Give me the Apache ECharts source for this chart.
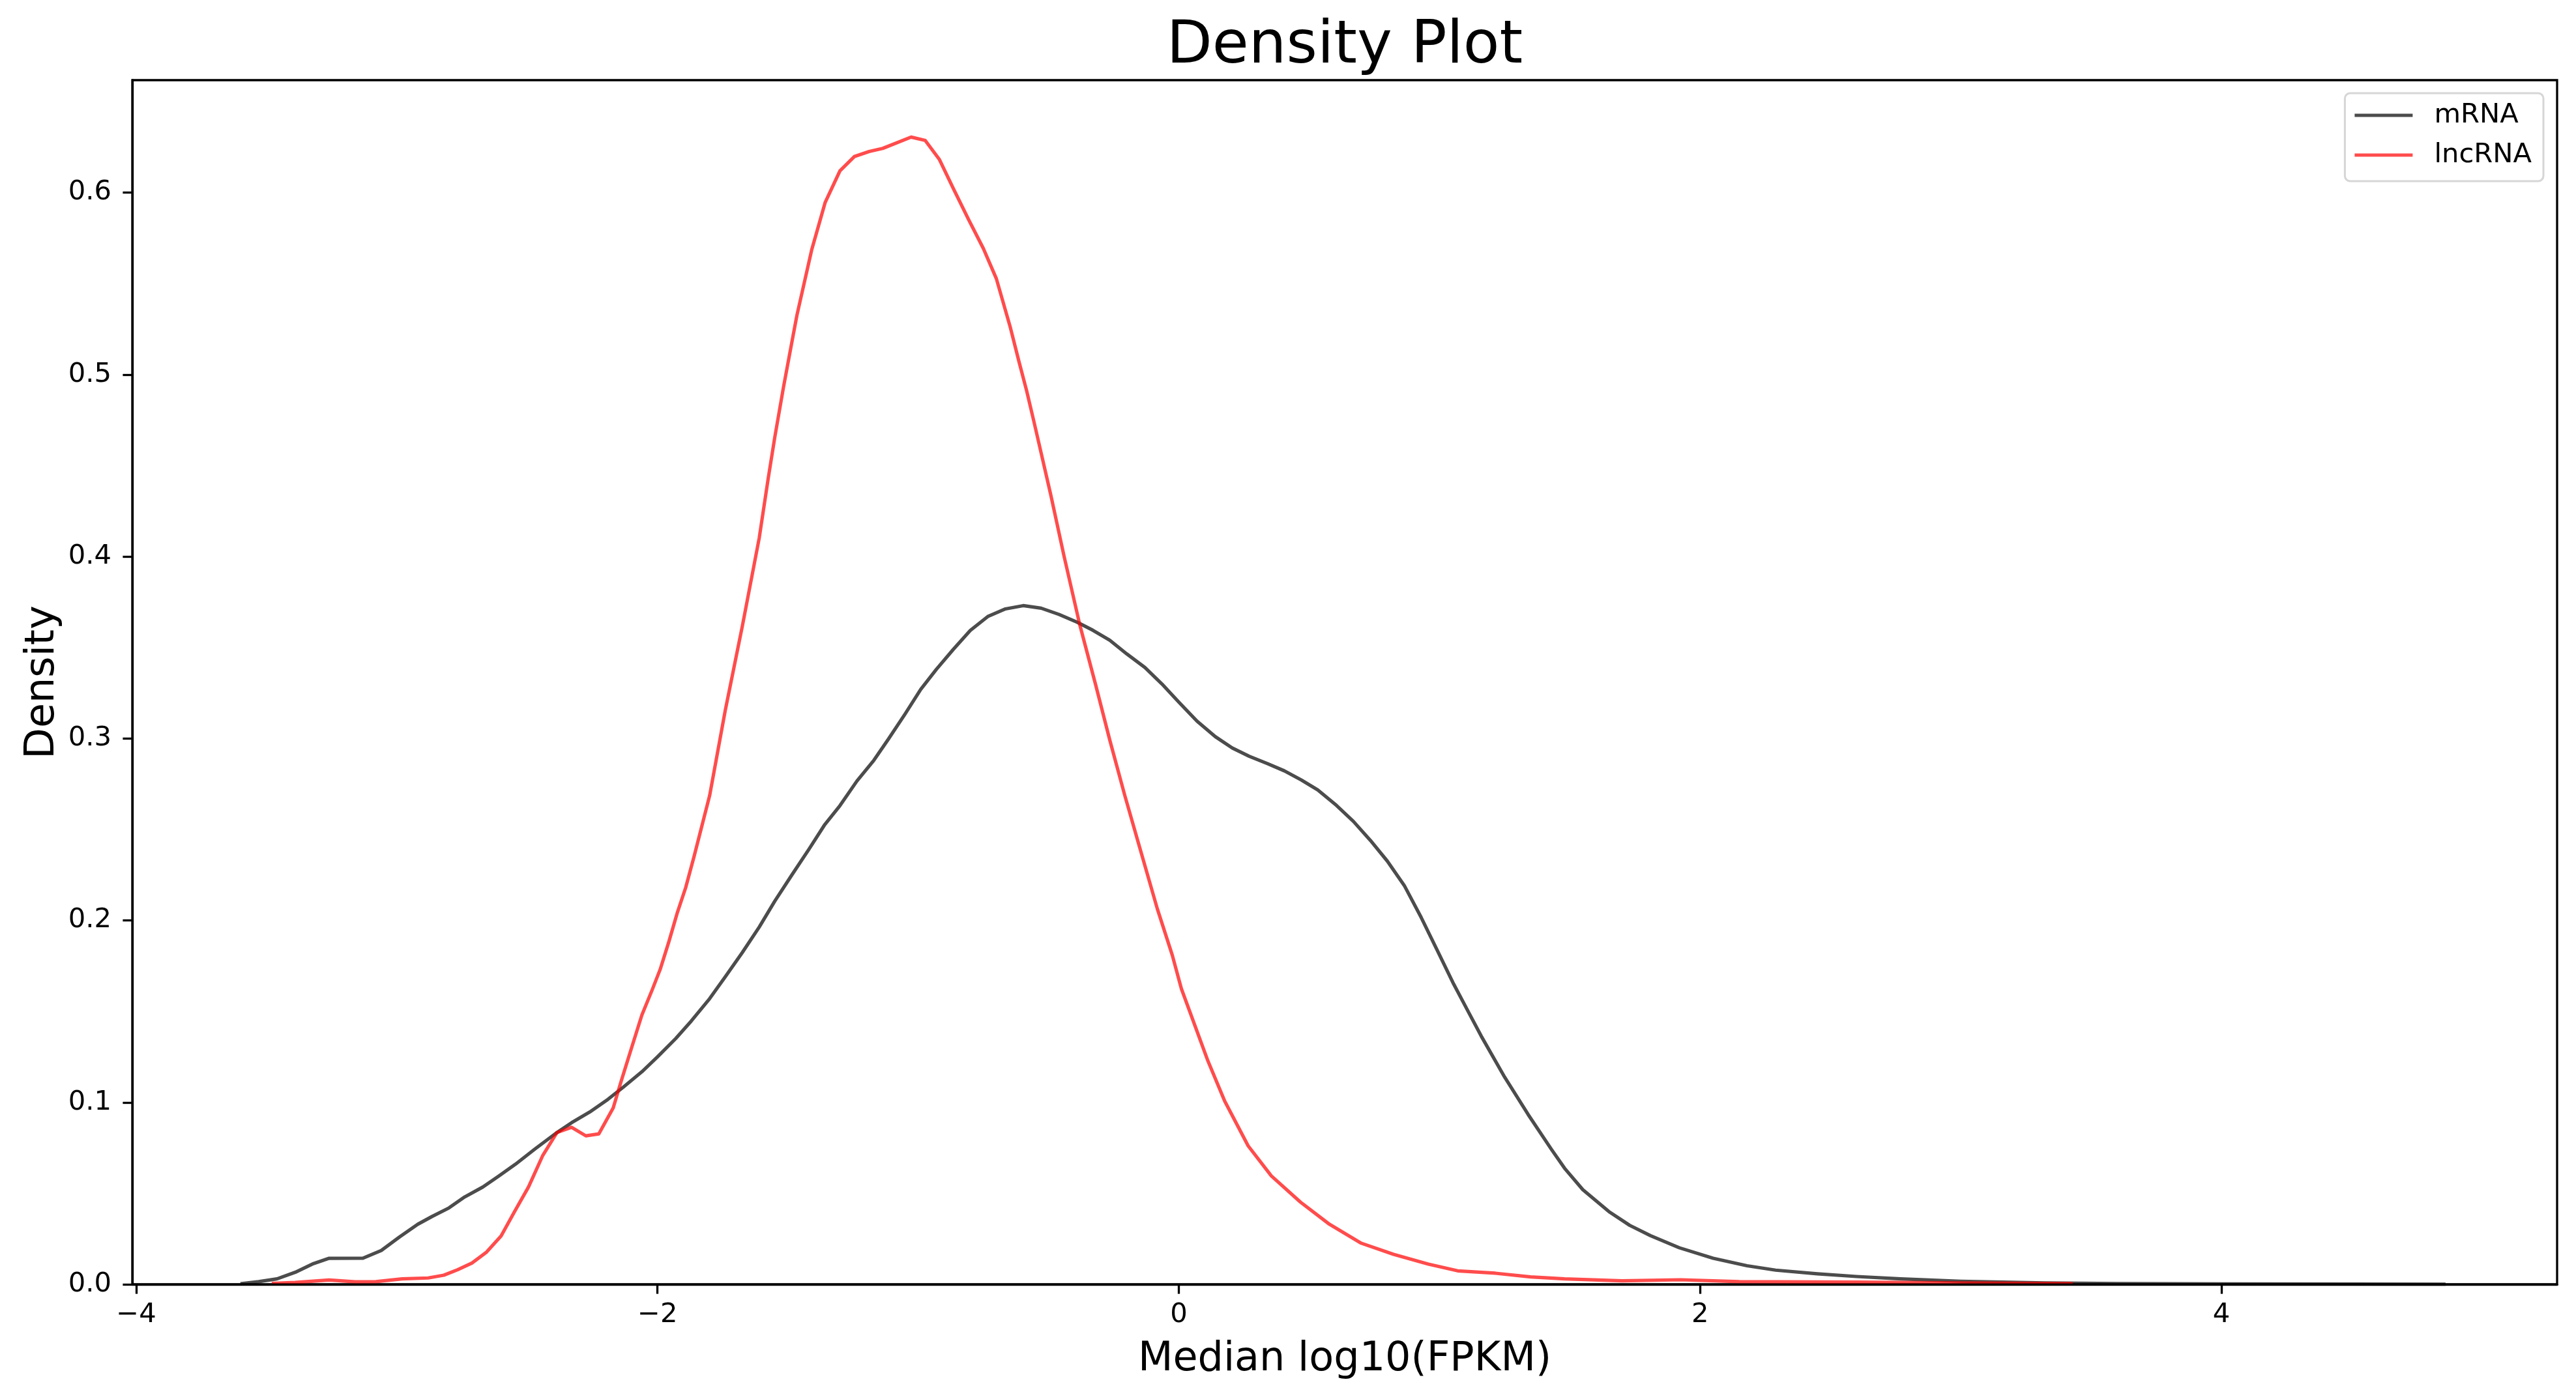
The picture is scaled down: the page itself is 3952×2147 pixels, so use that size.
<!DOCTYPE html>
<html>
<head>
<meta charset="utf-8">
<script src="https://cdn.jsdelivr.net/npm/echarts@6/dist/echarts.min.js"></script>
<style>
html,body{margin:0;padding:0;background:#ffffff;}
#chart{width:3952px;height:2147px;}
</style>
</head>
<body>
<div id="chart"></div>
<script>
// ---- chart text ----
const titleText = 'Density Plot';
const xLabelText = 'Median log10(FPKM)';
const yLabelText = 'Density';
const seriesNames = ['mRNA', 'lncRNA'];

// ---- axes ----
const xTicks = [-4, -2, 0, 2, 4];
const yTicks = [0, 0.1, 0.2, 0.3, 0.4, 0.5, 0.6];
const xRange = [-4.015, 5.288];
const yRange = [0, 0.6618];

// ---- series values [x, density] ----
const mrnaData = [
  [-3.60,0.0003],[-3.53,0.0015],[-3.46,0.003],[-3.39,0.0066],[-3.32,0.0114],[-3.26,0.0143],
  [-3.13,0.0144],[-3.06,0.0186],[-2.99,0.026],[-2.92,0.033],[-2.865,0.0373],[-2.80,0.042],
  [-2.74,0.048],[-2.67,0.0535],[-2.61,0.0594],[-2.545,0.066],[-2.47,0.0744],[-2.39,0.083],
  [-2.33,0.0888],[-2.26,0.0947],[-2.19,0.1017],[-2.13,0.1085],[-2.06,0.1168],[-2.00,0.125],
  [-1.93,0.1351],[-1.87,0.1448],[-1.80,0.157],[-1.74,0.169],[-1.675,0.1823],[-1.61,0.1963],
  [-1.55,0.2106],[-1.485,0.2249],[-1.42,0.2389],[-1.36,0.2523],[-1.30,0.2631],[-1.235,0.2766],
  [-1.17,0.288],[-1.115,0.2995],[-1.05,0.3135],[-0.99,0.327],[-0.93,0.338],[-0.865,0.349],
  [-0.80,0.3594],[-0.733,0.367],[-0.665,0.3712],[-0.597,0.373],[-0.528,0.3716],[-0.46,0.3682],
  [-0.39,0.3639],[-0.33,0.3595],[-0.265,0.354],[-0.20,0.3465],[-0.13,0.339],[-0.065,0.330],
  [0.00,0.320],[0.07,0.3095],[0.14,0.301],[0.205,0.2948],[0.27,0.2902],[0.34,0.2862],
  [0.405,0.2822],[0.47,0.2772],[0.533,0.2717],[0.605,0.2632],[0.67,0.2544],[0.735,0.244],
  [0.80,0.2326],[0.865,0.2192],[0.93,0.2016],[0.99,0.184],[1.055,0.1649],[1.11,0.150],
  [1.16,0.1365],[1.25,0.1139],[1.34,0.0934],[1.43,0.0741],[1.48,0.0638],[1.55,0.052],
  [1.60,0.046],[1.65,0.040],[1.73,0.0324],[1.81,0.0267],[1.92,0.0201],[2.05,0.0143],
  [2.18,0.0102],[2.29,0.0078],[2.45,0.0058],[2.60,0.0043],[2.77,0.003],[3.00,0.0017],
  [3.32,0.0008],[3.60,0.0004],[4.00,0.0002],[4.50,0.0001],[4.86,0.00005]
];
const lncData = [
  [-3.48,0.0005],[-3.39,0.001],[-3.26,0.0024],[-3.16,0.0014],[-3.08,0.0015],[-2.98,0.003],
  [-2.88,0.0035],[-2.82,0.005],[-2.767,0.008],[-2.712,0.0117],[-2.656,0.0177],[-2.60,0.0266],
  [-2.549,0.0398],[-2.495,0.0535],[-2.44,0.0709],[-2.386,0.0834],[-2.33,0.0863],[-2.275,0.0816],
  [-2.225,0.0827],[-2.17,0.097],[-2.14,0.1114],[-2.105,0.1275],[-2.06,0.148],[-2.02,0.162],
  [-1.99,0.173],[-1.956,0.1885],[-1.925,0.2038],[-1.892,0.218],[-1.86,0.235],[-1.80,0.2686],
  [-1.74,0.3155],[-1.675,0.3614],[-1.61,0.410],[-1.575,0.4432],[-1.55,0.4656],[-1.517,0.4928],
  [-1.49,0.5136],[-1.465,0.5327],[-1.408,0.5688],[-1.357,0.5945],[-1.30,0.612],[-1.245,0.6198],
  [-1.188,0.6226],[-1.136,0.6243],[-1.027,0.6305],[-0.973,0.6287],[-0.919,0.6183],[-0.865,0.6022],
  [-0.806,0.585],[-0.75,0.5693],[-0.70,0.5527],[-0.646,0.5257],[-0.613,0.507],[-0.584,0.4912],
  [-0.555,0.4736],[-0.491,0.4337],[-0.44,0.400],[-0.38,0.3625],[-0.32,0.330],[-0.265,0.2992],
  [-0.2075,0.2688],[-0.15,0.240],[-0.0825,0.2064],[-0.025,0.1809],[0.01,0.1624],[0.11,0.1234],
  [0.176,0.1007],[0.266,0.0761],[0.355,0.0596],[0.4665,0.0452],[0.578,0.033],[0.70,0.0226],
  [0.824,0.0165],[0.9575,0.0111],[1.07,0.0074],[1.2145,0.0061],[1.35,0.0041],[1.48,0.003],
  [1.70,0.0019],[1.925,0.0025],[2.15,0.0015],[2.6,0.0012],[3.0,0.0008],[3.43,0.0004]
];

const FONT = 'DejaVu Sans';
const LINE_W = 5.2;
const chart = echarts.init(document.getElementById('chart'), null, {renderer: 'canvas'});

const option = {
  animation: false,
  backgroundColor: '#ffffff',
  legend: {
    data: seriesNames,
    orient: 'vertical',
    align: 'left',
    right: 50,
    top: 143,
    padding: [13, 18, 19, 15],
    itemGap: 19,
    itemWidth: 89,
    itemHeight: LINE_W,
    icon: 'rect',
    backgroundColor: '#ffffff',
    borderColor: '#d6d6d6',
    borderWidth: 3,
    borderRadius: 8,
    textStyle: {fontFamily: FONT, fontSize: 41.7, color: '#000', padding: [0, 0, 0, 28]}
  },
  grid: {
    left: 203, right: 29, top: 123, bottom: 176,
    containLabel: false,
    show: true,
    borderColor: '#000',
    borderWidth: 3.3,
    backgroundColor: 'transparent'
  },
  xAxis: {
    type: 'value',
    min: xRange[0],
    max: xRange[1],
    z: 5,
    axisLine: {show: true, onZero: false, lineStyle: {color: '#000', width: 3.3}},
    axisTick: {show: true, length: 14.6, customValues: xTicks, lineStyle: {color: '#000', width: 3.3}},
    axisLabel: {
      show: true, margin: 26, customValues: xTicks,
      fontFamily: FONT, fontSize: 41.7, color: '#000',
      formatter: v => String(v).replace('-', '\u2212')
    },
    splitLine: {show: false}
  },
  yAxis: {
    type: 'value',
    min: yRange[0],
    max: yRange[1],
    z: 5,
    axisLine: {show: true, onZero: false, lineStyle: {color: '#000', width: 3.3}},
    axisTick: {show: true, length: 14.6, customValues: yTicks, lineStyle: {color: '#000', width: 3.3}},
    axisLabel: {
      show: true, margin: 32, customValues: yTicks,
      fontFamily: FONT, fontSize: 41.7, color: '#000',
      formatter: v => v.toFixed(1)
    },
    splitLine: {show: false}
  },
  graphic: [
    {
      type: 'text', x: 2063, y: 72,
      style: {text: titleText, fontFamily: FONT, fontSize: 91, fill: '#000', textAlign: 'center', textVerticalAlign: 'middle'}
    },
    {
      type: 'text', x: 2063, y: 2087,
      style: {text: xLabelText, fontFamily: FONT, fontSize: 62, fill: '#000', textAlign: 'center', textVerticalAlign: 'middle'}
    },
    {
      type: 'text', x: 66, y: 1047, rotation: Math.PI / 2,
      style: {text: yLabelText, fontFamily: FONT, fontSize: 62, fill: '#000', textAlign: 'center', textVerticalAlign: 'middle'}
    }
  ],
  series: [
    {
      name: seriesNames[0], type: 'line', data: mrnaData,
      showSymbol: false, symbol: 'none', smooth: false, z: 2,
      color: 'rgba(0,0,0,0.7)',
      lineStyle: {width: LINE_W, color: 'rgba(0,0,0,0.7)', join: 'round'}
    },
    {
      name: seriesNames[1], type: 'line', data: lncData,
      showSymbol: false, symbol: 'none', smooth: false, z: 3,
      color: 'rgba(255,0,0,0.7)',
      lineStyle: {width: LINE_W, color: 'rgba(255,0,0,0.7)', join: 'round'}
    }
  ]
};
chart.setOption(option);
</script>
</body>
</html>
